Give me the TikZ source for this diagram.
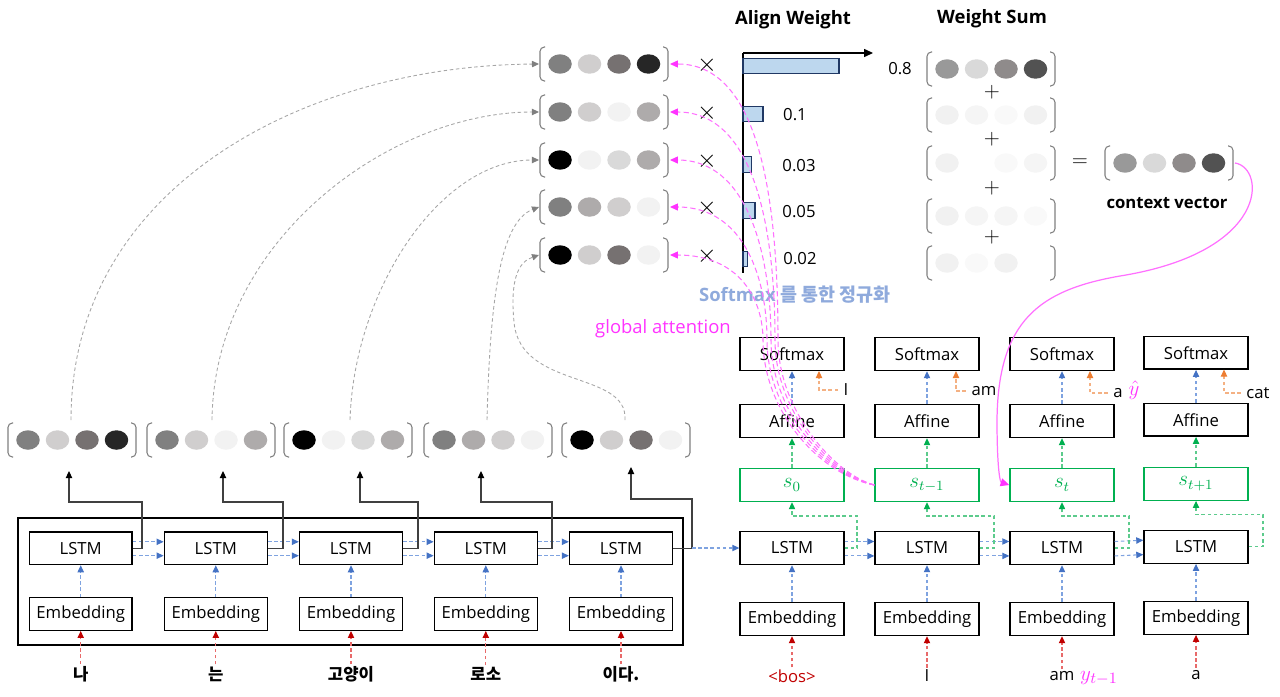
\documentclass[tikz,border=0pt]{standalone}
\usepackage{fontspec}
\setmainfont{Open Sans}
\newfontfamily\kr{Noto Sans CJK KR}
\usetikzlibrary{arrows.meta}
\definecolor{bl}{HTML}{4472C4}
\definecolor{bll}{HTML}{7FA3E0}
\definecolor{rd}{HTML}{C00000}
\definecolor{rdl}{HTML}{E86A6A}
\definecolor{sg}{HTML}{00B050}
\definecolor{sgl}{HTML}{5CCB8C}
\definecolor{org}{HTML}{ED7D31}
\definecolor{orgl}{HTML}{F4B183}
\definecolor{pk}{HTML}{FF33FF}
\definecolor{pkl}{HTML}{FF70FF}
\definecolor{gy}{HTML}{7F7F7F}
\definecolor{gyl}{HTML}{A6A6A6}
\definecolor{sb}{HTML}{8FAADC}
\definecolor{barf}{HTML}{BDD7EE}
\definecolor{bard}{HTML}{203864}
\definecolor{cA}{HTML}{808080}
\definecolor{cB}{HTML}{D0CECE}
\definecolor{cC}{HTML}{767171}
\definecolor{cD}{HTML}{262626}
\definecolor{cE}{HTML}{F2F2F2}
\definecolor{cF}{HTML}{AEABAB}
\definecolor{cG}{HTML}{D9D9D9}
\definecolor{wA}{HTML}{999999}
\definecolor{wB}{HTML}{D9D9D9}
\definecolor{wC}{HTML}{8F8B8B}
\definecolor{wD}{HTML}{525252}
\definecolor{fA}{HTML}{F1F1F1}
\definecolor{fB}{HTML}{F5F5F5}
\definecolor{fC}{HTML}{F9F9F9}
\newcommand\vrow[7]{%
  \draw[brk] ({#1+5},{#2-17}) -- (#1,{#2-17}) -- (#1,{#2+17}) -- ({#1+5},{#2+17});
  \draw[brk] ({#1+123},{#2-17}) -- ({#1+128},{#2-17}) -- ({#1+128},{#2+17}) -- ({#1+123},{#2+17});
  \fill[#3] ({#1+20},#2) ellipse [x radius=0.235cm, y radius=0.195cm];
  \fill[#4] ({#1+49.5},#2) ellipse [x radius=0.235cm, y radius=0.195cm];
  \fill[#5] ({#1+79},#2) ellipse [x radius=0.235cm, y radius=0.195cm];
  \fill[#6] ({#1+108.5},#2) ellipse [x radius=0.235cm, y radius=0.195cm];
  \coordinate (#7L) at ({#1-1},#2);
  \coordinate (#7R) at ({#1+130},#2);
}
\begin{document}
\begin{tikzpicture}[x=0.02cm,y=-0.02cm,
  fs/.style={font=\fontsize{9.5}{11}\selectfont},
  nbox/.style={draw, line width=0.8pt, minimum width=2.06cm, minimum height=0.65cm, inner sep=0pt, fs},
  dbox/.style={nbox, minimum width=2.08cm, minimum height=0.66cm},
  gbox/.style={dbox, draw=sg, text=sg},
  lab/.style={inner sep=1pt, fs},
  krw/.style={inner sep=1pt, font=\kr\bfseries\fontsize{9.5}{11}\selectfont},
  brk/.style={draw=gy, line width=0.6pt, rounded corners=2.5pt},
  bla/.style={draw=bll, dash pattern=on 2pt off 1.5pt, line width=0.6pt, -{Triangle[length=4pt,width=3.6pt,color=bl]}},
  rda/.style={draw=rdl, dash pattern=on 2pt off 1.5pt, line width=0.6pt, -{Triangle[length=4pt,width=3.6pt,color=rd]}},
  gra/.style={draw=sgl, dash pattern=on 2pt off 1.5pt, line width=0.6pt, -{Triangle[length=4pt,width=3.6pt,color=sg]}},
  ora/.style={draw=orgl, dash pattern=on 2pt off 1.5pt, line width=0.6pt, -{Triangle[length=4pt,width=3.6pt,color=org]}},
  gya/.style={draw=gyl, dash pattern=on 2pt off 1.5pt, line width=0.5pt, -{Triangle[length=4pt,width=3.6pt,color=gy]}},
  pka/.style={draw=pkl, dash pattern=on 3pt off 1.8pt, line width=0.6pt, -{Triangle[length=4.5pt,width=4pt,color=pk]}},
  blk/.style={draw=black!75, line width=0.6pt, -{Triangle[length=4pt,width=3.6pt,color=black]}},
  bar/.style={draw=bard, fill=barf, line width=0.8pt}
]
\useasboundingbox (0,0) rectangle (1280,696);

% ---------- encoder ----------
\node[draw, line width=0.9pt, minimum width=13.3cm, minimum height=2.54cm, inner sep=0pt] (enc) at (350.5,581.5) {};
\foreach \i/\x/\w in {1/80.7/나, 2/215.8/는, 3/351/고양이, 4/485.8/로소, 5/621/이다.}{
  \node[nbox] (l\i) at (\x,548.3) {LSTM};
  \node[nbox] (e\i) at (\x,614) {Embedding};
  \node[krw] (k\i) at (\x,674) {\w};
  \draw[rda] (k\i.north) -- (e\i.south);
  \draw[bla] (e\i.north) -- (l\i.south);
}
\foreach \i/\j in {1/2,2/3,3/4,4/5}{
  \draw[bla] ([yshift=3.7pt]l\i.east) -- ([yshift=3.7pt]l\j.west);
  \draw[bla] ([yshift=-4.2pt]l\i.east) -- ([yshift=-4.2pt]l\j.west);
}

% encoder hidden vectors
\vrow{8}{440}{cA}{cB}{cC}{cD}{v1}
\vrow{147}{440}{cA}{cB}{cE}{cF}{v2}
\vrow{284}{440}{black}{cE}{cG}{cF}{v3}
\vrow{424}{440}{cA}{cF}{cB}{cE}{v4}
\vrow{562}{440}{black}{cB}{cC}{cE}{v5}

\coordinate (b1) at (69,471);
\coordinate (b2) at (223,471);
\coordinate (b3) at (360,471);
\coordinate (b4) at (481,471);
\coordinate (b5) at (631,467);
\draw[blk] (l1.east) -- (142,548.3) -- (142,502) -- (69,502) -- (b1);
\draw[blk] (l2.east) -- (283,548.3) -- (283,502) -- (223,502) -- (b2);
\draw[blk] (l3.east) -- (418,548.3) -- (418,502) -- (360,502) -- (b3);
\draw[blk] (l4.east) -- (552,548.3) -- (552,502) -- (481,502) -- (b4);
\draw[blk] (l5.east) -- (692,548.3) -- (692,499) -- (631,499) -- (b5);

% ---------- attention vectors ----------
\vrow{540}{64}{cA}{cB}{cC}{cD}{a1}
\vrow{540}{112}{cA}{cB}{cE}{cF}{a2}
\vrow{540}{160}{black}{cE}{cG}{cF}{a3}
\vrow{540}{207}{cA}{cF}{cB}{cE}{a4}
\vrow{540}{255}{black}{cB}{cC}{cE}{a5}

\coordinate (v1T) at (71,420);
\coordinate (v2T) at (212,420);
\coordinate (v3T) at (350,420);
\coordinate (v4T) at (487,420);
\coordinate (v5T) at (625,420);
\draw[gya] (v1T) .. controls (71,190) and (300,66) .. (a1L);
\draw[gya] (v2T) .. controls (214,240) and (390,112) .. (a2L);
\draw[gya] (v3T) .. controls (354,290) and (440,160) .. (a3L);
\draw[gya] (v4T) .. controls (490,300) and (500,222) .. (a4L);
\draw[gya] (v5T) .. controls (628,370) and (520,390) .. (514,322) .. controls (510,280) and (518,262) .. (a5L);

% multiply signs
\foreach \y in {65,113,161,208,256}{ \node[inner sep=0pt, font=\fontsize{14}{15}\selectfont] at (707,\y) {$\times$}; }

% ---------- bar chart ----------
\node[inner sep=0pt, font=\bfseries\fontsize{10.5}{12}\selectfont] (tAW) at (793,20) {Align Weight};
\coordinate (ax0) at (743,53);
\coordinate (ax1) at (743,273);
\coordinate (ax2) at (873,53);
\draw[line width=0.6pt] (ax0) -- (ax1);
\draw[line width=0.6pt, -{Triangle[length=5pt,width=4.5pt]}] (ax0) -- (ax2);
\draw[bar] (743,58.3) rectangle (839,73.3);
\draw[bar] (743,106.7) rectangle (763,121.7);
\draw[bar] (743,156.7) rectangle (751.5,172.3);
\draw[bar] (743,202.3) rectangle (755,218.3);
\draw[bar] (743,251.7) rectangle (747.5,266.7);
\node[lab] at (795,115) {0.1};
\node[lab] at (799,166) {0.03};
\node[lab] at (799,212) {0.05};
\node[lab] at (800,259) {0.02};
\node[lab] at (900,69) {0.8};

% ---------- weight sum ----------
\node[inner sep=0pt, font=\bfseries\fontsize{10.5}{12}\selectfont] (tWS) at (992,19) {Weight Sum};
\vrow{927}{69}{wA}{wB}{wC}{wD}{w1}
\vrow{927}{115}{fA}{fB}{fC}{fA}{w2}
\vrow{927}{163}{fA}{white}{fC}{fB}{w3}
\vrow{927}{216}{fA}{fB}{fB}{fC}{w4}
\vrow{927}{263}{fA}{fC}{fA}{white}{w5}
\foreach \y in {92,139,188,237}{ \node[inner sep=0pt, font=\fontsize{13}{14}\selectfont] at (992,\y) {$+$}; }
\node[inner sep=0pt, font=\fontsize{13}{14}\selectfont] at (1080,163) {$=$};
\vrow{1105}{163}{wA}{wB}{wC}{wD}{cv}
\node[inner sep=0pt, font=\bfseries\fontsize{9.5}{11}\selectfont] (tcv) at (1167,203) {context vector};

\node[inner sep=0pt, text=sb, font=\bfseries\fontsize{10.5}{12}\selectfont] (tsm) at (795,295) {Softmax {\kr\bfseries 를 통한 정규화}};
\node[inner sep=0pt, text=pk, font=\fontsize{10.5}{12}\selectfont] (tga) at (663,329) {global attention};

% ---------- decoder ----------
\foreach \i/\x/\d/\s/\w in {1/792/0/s_{0}/{\textcolor{rd}{<bos>}}, 2/927/0/s_{t-1}/I, 3/1062/0/s_{t}/am, 4/1196/-1.3/s_{t+1}/a}{
  \node[dbox] (sm\i) at (\x,354+\d) {Softmax};
  \node[dbox] (af\i) at (\x,421+\d) {Affine};
  \node[gbox, font=\fontsize{12}{13}\selectfont] (s\i) at (\x,485+\d) {\raisebox{-2pt}{$\s$}};
  \node[dbox] (dl\i) at (\x,548+\d) {LSTM};
  \node[dbox] (de\i) at (\x,619+\d) {Embedding};
  \node[lab] (dw\i) at (\x,676+\d) {\w};
  \draw[rda] (dw\i.north) -- (de\i.south);
  \draw[bla] (de\i.north) -- (dl\i.south);
  \draw[gra] (s\i.north) -- (af\i.south);
  \draw[bla] (af\i.north) -- (sm\i.south);
}
\node[inner sep=0pt, text=pk, font=\fontsize{13}{14}\selectfont] (yt) at (1099,678) {$y_{t-1}$};

\coordinate (ej) at (692,548);
\draw[bla] (ej) -- (dl1.west);
\foreach \i/\j in {1/2,2/3,3/4}{
  \draw[bla] ([yshift=3.7pt]dl\i.east) -- ([yshift=3.7pt]dl\j.west);
  \draw[bla] ([yshift=-4.5pt]dl\i.east) -- ([yshift=-4.5pt]dl\j.west);
}
% green feedback to s
\draw[gra] (dl1.east) -- (857,548) -- (857,516) -- (792,516) -- (s1.south);
\draw[gra] (dl2.east) -- (994,548) -- (994,516) -- (927,516) -- (s2.south);
\draw[gra] (dl3.east) -- (1129,548) -- (1129,516) -- (1062,516) -- (s3.south);
\draw[gra] (dl4.east) -- (1263,546.7) -- (1263,514.5) -- (1196,514.5) -- (s4.south);

% output labels
\node[lab] (o1) at (846,390) {I};
\node[lab] (o2) at (984,391) {am};
\node[lab] (o3) at (1118,393) {a};
\node[inner sep=0pt, text=pk, font=\fontsize{13}{14}\selectfont] (yh) at (1134,390) {$\hat{y}$};
\node[lab] (o4) at (1258,393) {cat};
\coordinate (t1) at (819,371);
\coordinate (t2) at (956,371);
\coordinate (t3) at (1090,371);
\coordinate (t4) at (1224,369.5);
\draw[ora] ([xshift=-2pt]o1.west) -| (t1);
\draw[ora] ([xshift=-2pt]o2.west) -| (t2);
\draw[ora] ([xshift=-2pt]o3.west) -| (t3);
\draw[ora] ([xshift=-2pt]o4.west) -| (t4);

% global attention curves
\draw[pka] (s2.west) .. controls (834,474) and (778,410) .. (778,340) .. controls (778,200) and (760,64) .. (a1R);
\draw[pka] (s2.west) .. controls (830,474) and (775,410) .. (775,340) .. controls (775,230) and (755,112) .. (a2R);
\draw[pka] (s2.west) .. controls (826,474) and (771,410) .. (771,340) .. controls (771,260) and (750,160) .. (a3R);
\draw[pka] (s2.west) .. controls (822,474) and (767,410) .. (767,340) .. controls (767,280) and (745,207) .. (a4R);
\draw[pka] (s2.west) .. controls (818,474) and (763,410) .. (763,340) .. controls (763,300) and (740,255) .. (a5R);

% context vector to s_t
\draw[draw=pkl, line width=0.7pt, -{Triangle[length=5pt,width=4.5pt,color=pk]}] (cvR) .. controls (1266,168) and (1270,252) .. (1120,276) .. controls (1040,290) and (998,320) .. (997,420) .. controls (997,468) and (1000,482) .. (s3.west);
\end{tikzpicture}
\end{document}
